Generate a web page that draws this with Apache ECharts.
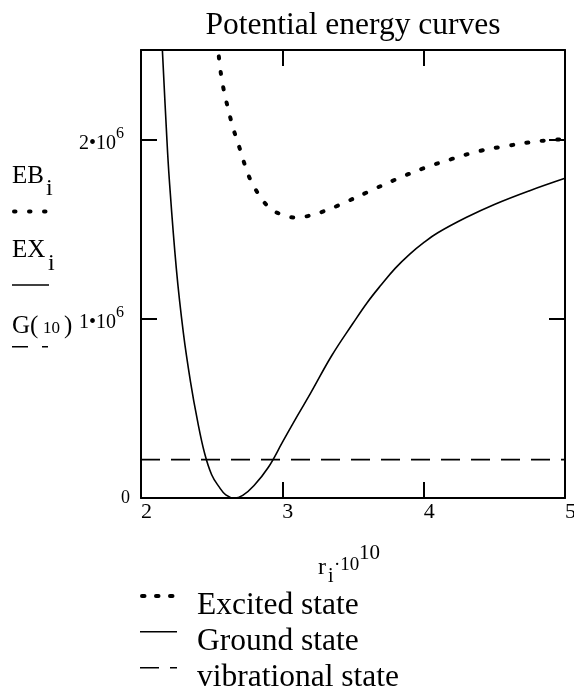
<!DOCTYPE html>
<html>
<head>
<meta charset="utf-8">
<script src="https://cdn.jsdelivr.net/npm/echarts@6/dist/echarts.min.js"></script>
<style>
html, body { margin: 0; padding: 0; background: #fff; }
#chart { width: 574px; height: 690px; }
</style>
</head>
<body>
<div id="chart"></div>
<script>
// data (r in 1e-10 m, energy in raw units)
var rGround = [2.15, 2.18, 2.20, 2.25, 2.30, 2.35, 2.40, 2.45, 2.50, 2.55, 2.60, 2.66, 2.72, 2.80, 2.90, 3.00, 3.10, 3.20, 3.35, 3.50, 3.60, 3.70, 3.80, 3.90, 4.00, 4.10, 4.30, 4.50, 4.75, 5.00];
var eGround = [2.52e6, 2.05e6, 1.78e6, 1.28e6, 0.92e6, 0.65e6, 0.43e6, 0.25e6, 0.13e6, 0.065e6, 0.018e6, 0, 0.015e6, 0.07e6, 0.17e6, 0.31e6, 0.45e6, 0.585e6, 0.795e6, 0.975e6, 1.09e6, 1.19e6, 1.283e6, 1.36e6, 1.425e6, 1.48e6, 1.565e6, 1.638e6, 1.715e6, 1.784e6];

var rExcited = [2.54, 2.56, 2.58, 2.60, 2.65, 2.70, 2.75, 2.80, 2.90, 3.00, 3.10, 3.20, 3.30, 3.40, 3.60, 3.80, 4.00, 4.20, 4.40, 4.60, 4.80, 5.00];
var eExcited = [2.55e6, 2.40e6, 2.30e6, 2.225e6, 2.07e6, 1.947e6, 1.824e6, 1.736e6, 1.626e6, 1.580e6, 1.565e6, 1.577e6, 1.602e6, 1.634e6, 1.706e6, 1.777e6, 1.840e6, 1.892e6, 1.937e6, 1.966e6, 1.990e6, 2.003e6];

var rVib = [2, 5];
var eVib = [0.214e6, 0.214e6];

var xMin = 2, xMax = 5, xStep = 1;
var yMin = 0, yMax = 2.5e6, yStep = 1e6;
var yTickLabels = { 0: '{z|0}', 1000000: '{m|1•10}{s|6}', 2000000: '{m|2•10}{s|6}' };

var legendNames = ['Excited state', 'Ground state', 'vibrational state'];

function pairs(xs, ys) {
    var out = [];
    for (var i = 0; i < xs.length; i++) {
        out.push([xs[i], ys[i]]);
    }
    return out;
}

var FONT = '"Liberation Serif", "Times New Roman", serif';
var chart = echarts.init(document.getElementById('chart'));

var frameLine = { show: true, onZero: false, lineStyle: { color: '#000', width: 2 } };
var inTick = { show: true, inside: true, length: 16, lineStyle: { color: '#000', width: 2 } };

function txt(text, x, y, size, align) {
    return {
        type: 'text',
        style: {
            text: text, x: x, y: y,
            font: size + 'px ' + FONT,
            fill: '#000',
            align: align || 'left',
            verticalAlign: 'middle'
        }
    };
}
function seg(x1, y1, x2, y2, w, dash, cap) {
    return {
        type: 'line',
        shape: { x1: x1, y1: y1, x2: x2, y2: y2 },
        style: { stroke: '#000', lineWidth: w, lineDash: dash || null, lineCap: cap || 'butt' }
    };
}

option = {
    animation: false,
    backgroundColor: '#fff',
    grid: { left: 141, top: 50, width: 424, height: 448, outerBoundsMode: 'none', containLabel: false },
    xAxis: [
        {
            type: 'value', min: xMin, max: xMax, interval: xStep,
            axisLine: frameLine, axisTick: inTick, splitLine: { show: false },
            axisLabel: { color: '#000', fontSize: 22, fontFamily: FONT, align: 'left', margin: 3 }
        },
        {
            type: 'value', position: 'top', min: xMin, max: xMax, interval: xStep,
            axisLine: frameLine, axisTick: inTick, splitLine: { show: false },
            axisLabel: { show: false }
        }
    ],
    yAxis: [
        {
            type: 'value', min: yMin, max: yMax, interval: yStep,
            axisLine: frameLine, axisTick: inTick, splitLine: { show: false },
            axisLabel: {
                color: '#000', fontFamily: FONT, margin: 11,
                formatter: function (v) { return yTickLabels[v] || ''; },
                rich: {
                    z: { fontSize: 18, fontFamily: FONT, color: '#000' },
                    m: { fontSize: 20, fontFamily: FONT, color: '#000', lineHeight: 28, verticalAlign: 'bottom' },
                    s: { fontSize: 16, fontFamily: FONT, color: '#000', lineHeight: 16, verticalAlign: 'top', padding: [0, 6, 0, 0] }
                }
            }
        },
        {
            type: 'value', position: 'right', min: yMin, max: yMax, interval: yStep,
            axisLine: frameLine, axisTick: inTick, splitLine: { show: false },
            axisLabel: { show: false }
        }
    ],
    series: [
        {
            name: legendNames[0], type: 'line', data: pairs(rExcited, eExcited),
            symbol: 'none', smooth: 0.4, clip: true,
            lineStyle: { color: '#000', width: 4, type: [2, 13.5], cap: 'round' }
        },
        {
            name: legendNames[1], type: 'line', data: pairs(rGround, eGround),
            symbol: 'none', smooth: 0.4, clip: true,
            lineStyle: { color: '#000', width: 1.6 }
        },
        {
            name: legendNames[2], type: 'line', data: pairs(rVib, eVib),
            symbol: 'none', clip: true,
            lineStyle: { color: '#000', width: 1.6, type: [19, 11] }
        }
    ],
    graphic: [
        txt('Potential energy curves', 353, 26, 31.5, 'center'),
        // left side labels
        txt('EB', 12, 176, 25), txt('i', 46, 189, 24),
        seg(14, 211.5, 48, 211.5, 4, [1.5, 13.5], 'round'),
        txt('EX', 12, 250, 25), txt('i', 48, 264, 24),
        seg(12, 285, 49, 285, 1.6),
        txt('G(', 12, 326, 25), txt('10', 43, 329, 17), txt(')', 64, 326, 25),
        seg(12, 346.7, 48, 346.7, 1.6, [16, 14]),
        // x axis title
        txt('r', 318, 568, 24), txt('i', 328, 577, 20), txt('·10', 334, 565, 19), txt('10', 359, 553, 21),
        // bottom legend
        seg(142, 596, 177, 596, 4, [2.5, 11.5], 'round'),
        txt(legendNames[0], 197, 606, 31.5),
        seg(140, 631.7, 177, 631.7, 1.6),
        txt(legendNames[1], 197, 642, 31.5),
        seg(140, 667.7, 177, 667.7, 1.6, [19, 11]),
        txt(legendNames[2], 197, 678, 31.5)
    ]
};

chart.setOption(option);
</script>
</body>
</html>
